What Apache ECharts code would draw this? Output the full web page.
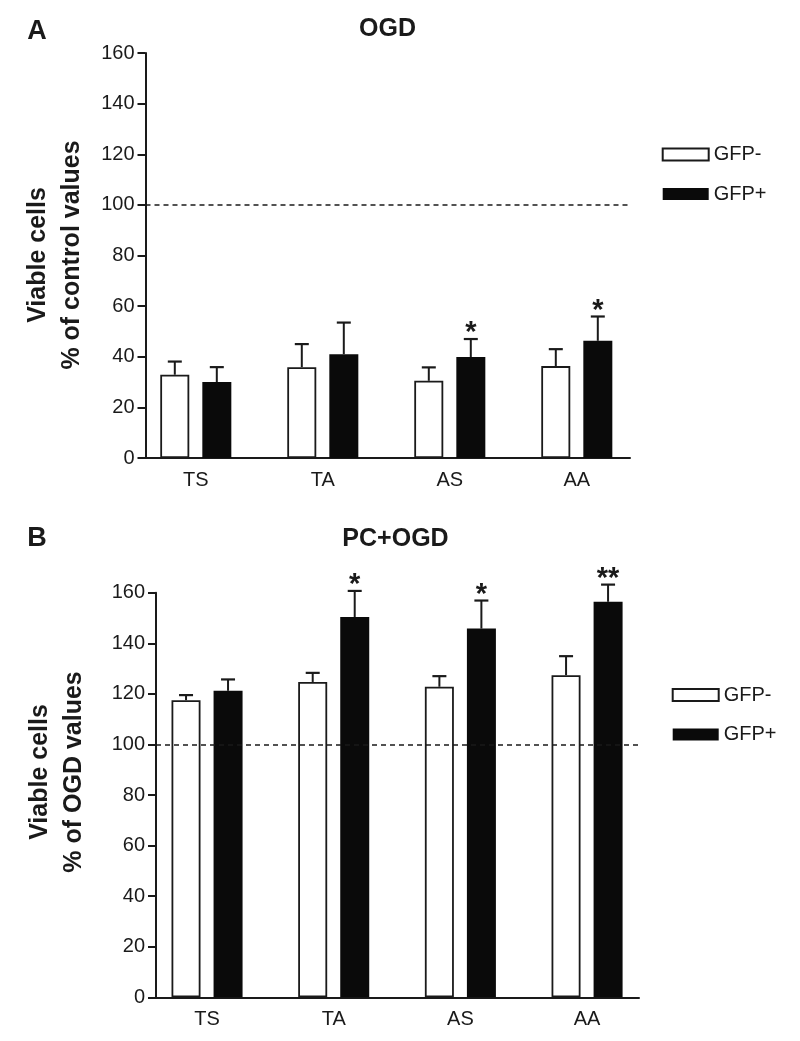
<!DOCTYPE html>
<html>
<head>
<meta charset="utf-8">
<script src="https://cdn.jsdelivr.net/npm/echarts@6/dist/echarts.min.js"></script>
<style>
  html, body { margin: 0; padding: 0; background: #fff; }
  #chart { width: 800px; height: 1041px; }
</style>
</head>
<body>
<div id="chart"></div>
<script>
// ---- data ----
const categories = ['TS', 'TA', 'AS', 'AA'];
const yTicks = [0, 20, 40, 60, 80, 100, 120, 140, 160];

// Panel A: OGD (% of control values)
const ogdNeg    = [32.9, 35.9, 30.5, 36.3];
const ogdNegErr = [5.2, 9.1, 5.3, 6.7];
const ogdPos    = [30.0, 41.0, 39.9, 46.3];
const ogdPosErr = [5.9, 12.5, 7.1, 9.6];
const ogdNegSig = ['', '', '', ''];
const ogdPosSig = ['', '', '*', '*'];

// Panel B: PC+OGD (% of OGD values)
const pcNeg    = [117.5, 124.7, 122.8, 127.4];
const pcNegErr = [2.0, 3.6, 4.2, 7.5];
const pcPos    = [121.2, 150.4, 145.8, 156.4];
const pcPosErr = [4.5, 10.3, 11.1, 6.8];
const pcNegSig = ['', '', '', ''];
const pcPosSig = ['', '*', '*', '**'];

const refLine = 100;

// ---- style ----
const FONT = '"Liberation Sans", Arial, Helvetica, sans-serif';
const INK = '#1a1a1a';
const BAR_W = 29;
const HALF_OFF = 21; // half distance between the two bar centres in a group

const chart = echarts.init(document.getElementById('chart'), null, { renderer: 'canvas' });

function errSeries(name, means, errs, sigs, sign, xi, yi) {
  return {
    type: 'custom',
    name: name + ' err',
    xAxisIndex: xi, yAxisIndex: yi,
    z: 5,
    silent: true,
    data: means.map((m, i) => [i, m, errs[i]]),
    renderItem: function (params, api) {
      const i = params.dataIndex;
      const m = api.value(1), e = api.value(2);
      const base = api.coord([i, m]);
      const top = api.coord([i, m + e]);
      const x = base[0] + sign * HALF_OFF;
      const children = [
        { type: 'line', shape: { x1: x, y1: base[1], x2: x, y2: top[1] },
          style: { stroke: INK, lineWidth: 2 } },
        { type: 'line', shape: { x1: x - 7, y1: top[1], x2: x + 7, y2: top[1] },
          style: { stroke: INK, lineWidth: 2.2 } }
      ];
      if (sigs[i]) {
        children.push({
          type: 'text', x: x, y: top[1] - 6,
          style: { text: sigs[i], font: 'bold 29px ' + FONT, fill: INK,
                   align: 'center', verticalAlign: 'middle',
                   textAlign: 'center', textVerticalAlign: 'middle' }
        });
      }
      return { type: 'group', children: children };
    }
  };
}

function barSeries(name, vals, fill, border, xi, yi) {
  return {
    type: 'bar', name: name, xAxisIndex: xi, yAxisIndex: yi,
    data: vals, barWidth: BAR_W, barGap: '45%',
    itemStyle: { color: fill, borderColor: border, borderWidth: fill === '#ffffff' ? 1.8 : 0 },
    emphasis: { disabled: true }
  };
}

function dashSeries(xi, yi) {
  return {
    type: 'line', name: 'ref', xAxisIndex: xi, yAxisIndex: yi, data: [],
    markLine: {
      silent: true, symbol: 'none', label: { show: false },
      lineStyle: { color: INK, width: 1.5, type: [5, 4] },
      data: [{ yAxis: refLine }]
    }
  };
}

const hiddenY = { type: 'value', min: 0, max: 160, interval: 20, show: false };
function shownY(gi) {
  return {
    type: 'value', gridIndex: gi, min: 0, max: 160, interval: 20,
    axisLine: { show: true, lineStyle: { color: INK, width: 2 } },
    axisTick: { show: true, length: 8, lineStyle: { color: INK, width: 2 } },
    axisLabel: { color: INK, fontSize: 20, fontFamily: FONT, margin: 11,
                 formatter: v => yTicks.indexOf(v) >= 0 ? String(v) : '' },
    splitLine: { show: false }
  };
}
function catX(gi) {
  return {
    type: 'category', gridIndex: gi, data: categories,
    axisLine: { show: false }, axisTick: { show: false },
    axisLabel: { color: INK, fontSize: 20, fontFamily: FONT, margin: 12 }
  };
}
function lineX(gi) {
  return {
    type: 'value', gridIndex: gi, min: 0, max: 1,
    axisLine: { show: true, lineStyle: { color: INK, width: 2 } },
    axisTick: { show: false }, axisLabel: { show: false }, splitLine: { show: false }
  };
}

function legend(left, top) {
  return {
    data: ['GFP-', 'GFP+'], orient: 'vertical', left: left, top: top,
    padding: 0, itemWidth: 46, itemHeight: 12, itemGap: 19.5,
    icon: 'rect', selectedMode: false,
    textStyle: { color: INK, fontSize: 20, fontFamily: FONT, lineHeight: 20 }
  };
}

function txt(text, x, y, size, rot, lh) {
  return {
    type: 'text', x: x, y: y, rotation: rot || 0, silent: true,
    style: { text: text, font: 'bold ' + size + 'px ' + FONT, fill: INK,
             lineHeight: lh, textAlign: 'center', textVerticalAlign: 'middle',
             align: 'center', verticalAlign: 'middle' }
  };
}

const option = {
  animation: false,
  backgroundColor: '#ffffff',
  grid: [
    { left: 132.3, width: 508, top: 53, height: 405 },
    { left: 145.5, width: 484.5, top: 53, height: 405 },
    { left: 143.7, width: 506.7, top: 592.7, height: 404.6 },
    { left: 156, width: 483, top: 592.7, height: 404.6 }
  ],
  xAxis: [catX(0), lineX(1), catX(2), lineX(3)],
  yAxis: [
    Object.assign({ gridIndex: 0 }, hiddenY), shownY(1),
    Object.assign({ gridIndex: 2 }, hiddenY), shownY(3)
  ],
  legend: [legend(661.7, 144.5), legend(671.7, 685)],
  graphic: [
    txt('A', 37, 32, 27),
    txt('OGD', 387.5, 29, 25),
    txt('B', 37, 539, 27),
    txt('PC+OGD', 395.5, 539, 25),
    txt('Viable cells\n% of control values', 55, 255, 25, Math.PI / 2, 34),
    txt('Viable cells\n% of OGD values', 57, 772, 25, Math.PI / 2, 34)
  ],
  series: [
    barSeries('GFP-', ogdNeg, '#ffffff', INK, 0, 0),
    barSeries('GFP+', ogdPos, '#0a0a0a', '#0a0a0a', 0, 0),
    errSeries('GFP-', ogdNeg, ogdNegErr, ogdNegSig, -1, 0, 0),
    errSeries('GFP+', ogdPos, ogdPosErr, ogdPosSig, 1, 0, 0),
    dashSeries(1, 1),
    barSeries('GFP-', pcNeg, '#ffffff', INK, 2, 2),
    barSeries('GFP+', pcPos, '#0a0a0a', '#0a0a0a', 2, 2),
    errSeries('GFP-', pcNeg, pcNegErr, pcNegSig, -1, 2, 2),
    errSeries('GFP+', pcPos, pcPosErr, pcPosSig, 1, 2, 2),
    dashSeries(3, 3)
  ]
};
chart.setOption(option);
</script>
</body>
</html>
